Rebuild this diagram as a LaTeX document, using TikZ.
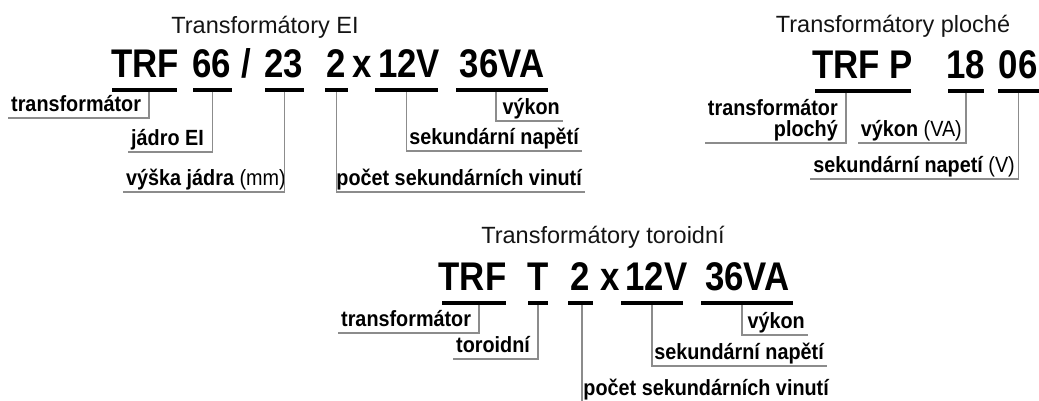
\documentclass[tikz,border=0pt]{standalone}
\usepackage{fontspec}
\setmainfont{Liberation Sans}
\newfontfamily\kodfont[FakeStretch=0.87]{Liberation Sans}
\newfontfamily\popisfont[FakeStretch=0.9]{Liberation Sans}
\usepackage{tikz}
\usetikzlibrary{positioning}
\tikzset{
    %Define style for titles
    nadpis/.style={
           anchor=base,
           inner sep=0pt,
           text=black!92,
           font=\fontsize{23.5}{26}\selectfont},
    %Define style for the code letters
    kod/.style={
           anchor=base,
           inner sep=0pt,
           font=\kodfont\fontsize{40}{40}\selectfont\bfseries},
    %Define style for underlines
    ul/.style={
           rectangle,
           fill=black,
           inner sep=0pt,
           minimum height=3.4pt,
           minimum width=#1},
    %Define style for labels
    popis/.style={
           inner xsep=3pt,
           inner ysep=3pt,
           text depth=3.5pt,
           font=\popisfont\fontsize{22}{21}\selectfont\bfseries},
    % Define leader line style
    vod/.style={
           draw=black!45,
           line width=1.3pt}
}

\begin{document}
\begin{tikzpicture}[x=1pt,y=-1pt]
\useasboundingbox (0,0) rectangle (1039,400);
\clip (0,0) rectangle (1039,400);
% Transformatory EI
\node[nadpis] (h1) at (265,33) {Transformátory EI};
\node[kod] (k1a) at (145,77.5) {TRF};
\node[kod] (k1b) at (211.5,77.5) {66};
\node[kod] (k1c) at (246.5,77.5) {/};
\node[kod] (k1d) at (284,77.5) {23};
\node[kod] (k1e) at (336,77.5) {2};
\node[kod] (k1f) at (362.5,77.5) {x};
\node[kod] (k1g) at (409,77.5) {12V};
\node[kod] (k1h) at (502,77.5) {36VA};
\node[ul=65pt] (u1a) at (144.5,90) {};
\node[ul=39pt] (u1b) at (212.5,90) {};
\node[ul=39pt] (u1d) at (284.5,90) {};
\node[ul=23pt] (u1e) at (336.5,90) {};
\node[ul=63pt] (u1g) at (406.5,90) {};
\node[ul=92pt] (u1h) at (502,90) {};
\node[popis, anchor=south west] (p1a) at (8,118) {transformátor};
\node[popis, anchor=south west] (p1b) at (128,152) {jádro EI};
\node[popis, anchor=south west] (p1c) at (123,192) {výška jádra {\mdseries(mm)}};
\node[popis, anchor=south east] (p1e) at (585,192) {počet sekundárních vinutí};
\node[popis, anchor=south east] (p1g) at (582,151) {sekundární napětí};
\node[popis, anchor=south east] (p1h) at (563,121) {výkon};
\draw[vod] ([xshift=4.5pt]u1a.south) |- (p1a.south west);
\draw[vod] (u1b.south) |- (p1b.south west);
\draw[vod] (u1d.south) |- (p1c.south west);
\draw[vod] (u1e.south) |- (p1e.south east);
\draw[vod] (u1g.south) |- (p1g.south east);
\draw[vod] ([xshift=-6pt]u1h.south) |- (p1h.south east);
% Transformatory ploche
\node[nadpis] (h2) at (893,32) {Transformátory ploché};
\node[kod] (k2a) at (862.5,78) {TRF P};
\node[kod] (k2b) at (965.5,78) {18};
\node[kod] (k2c) at (1018,78) {06};
\node[ul=96pt] (u2a) at (863,91) {};
\node[ul=36pt] (u2b) at (966,91) {};
\node[ul=41pt] (u2c) at (1018.5,91) {};
\node[popis, anchor=south east, align=right] (p2a) at (841,143) {transformátor\\plochý};
\node[popis, anchor=south east] (p2b) at (965,143) {výkon {\mdseries(VA)}};
\node[popis, anchor=south east] (p2c) at (1018,179) {sekundární napetí {\mdseries(V)}};
\draw[vod] ([xshift=-17pt]u2a.south) |- (p2a.south west);
\draw[vod] (u2b.south) |- (p2b.south west);
\draw[vod] (u2c.south) |- (p2c.south west);
% Transformatory toroidni
\node[nadpis] (h3) at (603,243) {Transformátory toroidní};
\node[kod] (k3a) at (472.5,290) {TRF};
\node[kod] (k3b) at (538,290) {T};
\node[kod] (k3c) at (580.5,290) {2};
\node[kod] (k3d) at (610,290) {x};
\node[kod] (k3e) at (656.5,290) {12V};
\node[kod] (k3f) at (747.5,290) {36VA};
\node[ul=64pt] (u3a) at (474,303) {};
\node[ul=20pt] (u3b) at (538,303) {};
\node[ul=25pt] (u3c) at (580.5,303) {};
\node[ul=62pt] (u3e) at (652,303) {};
\node[ul=92pt] (u3f) at (747,303) {};
\node[popis, anchor=south west] (p3a) at (338,333) {transformátor};
\node[popis, anchor=south west] (p3b) at (453,359) {toroidní};
\node[popis, anchor=south east] (p3c) at (832,402) {počet sekundárních vinutí};
\node[popis, anchor=south east] (p3e) at (827,366) {sekundární napětí};
\node[popis, anchor=south east] (p3f) at (808,335) {výkon};
\draw[vod] ([xshift=5pt]u3a.south) |- (p3a.south west);
\draw[vod] (u3b.south) |- (p3b.south west);
\draw[vod] ([xshift=1.5pt]u3c.south) |- (p3c.south east);
\draw[vod] (u3e.south) |- (p3e.south east);
\draw[vod] ([xshift=-5pt]u3f.south) |- (p3f.south east);
\end{tikzpicture}
\end{document}
